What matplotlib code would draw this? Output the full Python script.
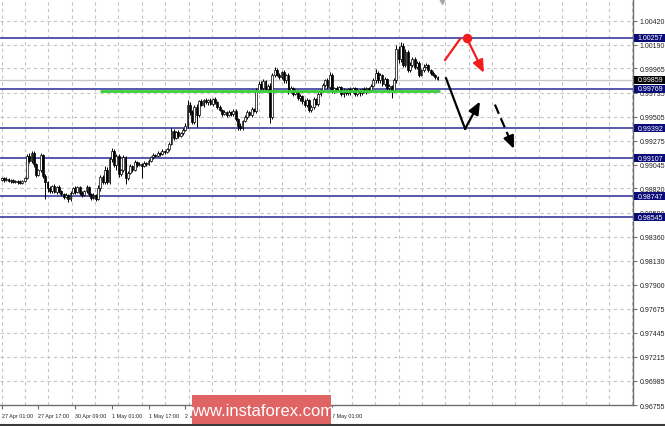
import matplotlib
matplotlib.use("Agg")
import matplotlib.pyplot as plt
from matplotlib.transforms import blended_transform_factory
from matplotlib.patches import Rectangle
from matplotlib.lines import Line2D

plt.rcParams['font.family'] = ['Liberation Sans', 'DejaVu Sans']

# ---------------- data ----------------
# H1 closes, in units of 1e-4
closes = [
    9892, 9890, 9891, 9889, 9890, 9888, 9889, 9888, 9887, 9889, 9892,
    9913, 9908, 9916, 9905, 9895, 9900, 9914, 9894, 9888, 9882,
    9880, 9884, 9879, 9883, 9880, 9877, 9874, 9876, 9872, 9878,
    9882, 9879, 9883, 9878, 9876, 9880, 9883, 9877, 9873, 9876,
    9872, 9882, 9893, 9888, 9900, 9888, 9910, 9918, 9904, 9913,
    9896, 9900, 9912, 9892, 9897, 9903, 9900, 9907, 9904, 9905,
    9903, 9906, 9905, 9908, 9912, 9914, 9913, 9916, 9915, 9918,
    9917, 9920, 9924, 9937, 9930, 9936, 9932, 9935, 9938, 9942,
    9962, 9955, 9945, 9960, 9952, 9965, 9962, 9966, 9964, 9966,
    9963, 9967, 9964, 9960, 9957, 9953, 9955, 9952, 9955, 9953,
    9956, 9948, 9942, 9940, 9946, 9950, 9955, 9952, 9958, 9956,
    9975, 9982, 9978, 9984, 9977, 9980, 9950, 9990, 9995, 9990,
    9988, 9993, 9985, 9990, 9975, 9978, 9972, 9975, 9968, 9970,
    9965, 9962, 9966, 9957, 9960, 9967, 9963, 9972, 9975, 9981,
    9985, 9979, 9990, 9975, 9978, 9976, 9979, 9972, 9976, 9973,
    9977, 9974, 9978, 9972, 9976, 9973, 9977, 9974, 9978, 9976,
    9980, 9985, 9992, 9985, 9990, 9982, 9986, 9978, 9980, 9976,
    9985, 10015, 10005, 10018, 10000, 10012, 9995, 10000, 10005, 9998,
    10002, 9990, 9995, 9998, 10000, 9995, 9992, 9990, 9988, 9986,
]
first_open = 9890
upper_wick = [
    1, 1, 2, 1, 1, 1, 1, 1, 2, 1, 1,
    2, 3, 2, 2, 1, 1, 2, 1, 2, 1,
    2, 1, 2, 1, 2, 1, 1, 2, 1, 2,
    1, 2, 1, 1, 2, 1, 2, 1, 1, 2,
    1, 3, 2, 2, 3, 2, 2, 3, 2, 2,
    2, 1, 2, 1, 2, 2, 1, 2, 1, 2,
    1, 2, 1, 2, 1, 2, 1, 2, 1, 2,
    1, 1, 2, 3, 2, 1, 2, 1, 2, 2,
    4, 2, 2, 2, 3, 1, 2, 1, 2, 1,
    2, 1, 2, 1, 2, 1, 2, 1, 2, 1,
    2, 2, 1, 2, 1, 2, 2, 1, 2, 1,
    3, 2, 2, 2, 1, 2, 3, 2, 3, 2,
    2, 1, 2, 1, 2, 2, 1, 2, 1, 2,
    1, 2, 2, 1, 2, 2, 1, 2, 2, 2,
    1, 2, 3, 2, 1, 2, 1, 1, 2, 1,
    1, 2, 1, 1, 2, 1, 1, 2, 1, 1,
    2, 2, 4, 2, 2, 1, 2, 1, 2, 1,
    2, 4, 3, 4, 3, 3, 2, 3, 2, 2,
    2, 2, 1, 3, 2, 1, 1, 2, 1, 1,
]
lower_wick = [
    1, 2, 1, 1, 2, 1, 1, 2, 1, 1, 1,
    1, 2, 2, 3, 2, 1, 2, 2, 16, 3,
    2, 2, 1, 2, 2, 2, 2, 1, 3, 2,
    1, 2, 1, 2, 2, 1, 2, 2, 2, 1,
    2, 1, 2, 2, 2, 2, 2, 3, 2, 4,
    3, 2, 2, 6, 2, 1, 2, 1, 2, 1,
    11, 1, 2, 1, 1, 2, 1, 1, 2, 1,
    2, 1, 2, 1, 2, 1, 2, 1, 2, 1,
    2, 3, 2, 2, 11, 2, 1, 2, 1, 2,
    1, 2, 1, 2, 1, 2, 1, 2, 1, 2,
    2, 2, 4, 2, 2, 1, 2, 1, 2, 1,
    2, 2, 2, 2, 2, 1, 6, 2, 2, 1,
    2, 2, 2, 2, 3, 2, 2, 1, 2, 3,
    2, 2, 2, 2, 2, 2, 1, 2, 2, 1,
    2, 2, 2, 2, 2, 2, 1, 2, 3, 2,
    2, 3, 1, 2, 2, 3, 2, 1, 2, 2,
    2, 1, 2, 2, 2, 2, 2, 2, 2, 8,
    2, 2, 3, 2, 2, 2, 2, 2, 2, 2,
    2, 2, 1, 2, 1, 2, 2, 1, 2, 1,
]

price_ticks = [1.00420, 1.00190, 0.99965, 0.99735, 0.99505, 0.99275, 0.99045,
               0.98820, 0.98590, 0.98360, 0.98130, 0.97900, 0.97675, 0.97445,
               0.97215, 0.96985, 0.96755]
date_tick_bars = [0, 16, 32, 48, 64, 80, 96, 112, 128, 144]
date_labels = ["27 Apr 01:00", "27 Apr 17:00", "30 Apr 09:00", "1 May 01:00",
               "1 May 17:00", "2 May 09:00", "3 May 01:00", "3 May 17:00",
               "4 May 09:00", "7 May 01:00"]

levels = [1.00257, 0.99769, 0.99392, 0.99107, 0.98747, 0.98545]
bid_price = 0.99859
green_start, green_end, green_price = 43, 191, 0.99752

red_path_x = [193.3, 199.8]
red_path_y = [1.00046, 1.00245]
red_dot = (202.7, 1.00255)
red_arrow = [(203.6, 1.00215), (210.2, 0.99922)]
black_path_x = [193.7, 202.0]
black_path_y = [0.99871, 0.99389]
black_arrow = [(202.0, 0.99389), (208.5, 0.99649)]
dashed_arrow = [(215.0, 0.99620), (223.3, 0.99198)]
shift_marker_bar = 191.8

# ---------------- figure ----------------
W, H = 665, 427
fig = plt.figure(figsize=(W / 100, H / 100), dpi=100, facecolor="white")
ax = fig.add_axes([0, 21 / H, 633 / W, 406 / H])
ax.set_facecolor("white")

ymin, ymax = 0.96757, 1.006267
ax.set_xlim(-0.74, 275.2)
ax.set_ylim(ymin, ymax)
px_y = (ymax - ymin) / 406.0   # data units per pixel (vertical)

# grid
grid_col = "#c4c4c4"
for p in price_ticks:
    ax.axhline(p, color=grid_col, lw=0.8, ls=(0, (3, 3)), zorder=0.5)
gx = 0.0
while gx < 276:
    ax.axvline(gx, color=grid_col, lw=0.8, ls=(0, (3, 3)), zorder=0.5)
    gx += 10.18

# level lines
for lv in levels:
    ax.axhline(lv, color="#4a4aa8", lw=1.3, zorder=1)
ax.axhline(bid_price, color="#c8c8c8", lw=1.0, zorder=1)

# candles
opens = [first_open] + closes[:-1]
for i, (o, c, uw, lw_) in enumerate(zip(opens, closes, upper_wick, lower_wick)):
    o_p, c_p = o / 10000, c / 10000
    hi = max(o_p, c_p) + uw / 10000
    lo = min(o_p, c_p) - lw_ / 10000
    ax.vlines(i, lo, hi, color="black", lw=0.7, zorder=2)
    if c > o:
        ax.bar(i, c_p - o_p, bottom=o_p, width=0.8, facecolor="white",
               edgecolor="black", lw=0.5, zorder=3)
    elif c < o:
        ax.bar(i, o_p - c_p, bottom=c_p, width=0.8, facecolor="black",
               edgecolor="black", lw=0.5, zorder=3)
    else:
        ax.hlines(c_p, i - 0.4, i + 0.4, color="black", lw=0.7, zorder=3)

# green support line
ax.plot([green_start, green_end], [green_price, green_price], color="#3ccf3c",
        lw=2.0, solid_capstyle="butt", zorder=4)

# red scenario
ax.plot(red_path_x, red_path_y, color="#f21c1c", lw=1.6, zorder=5)
ax.scatter([red_dot[0]], [red_dot[1]], s=34, color="#f21c1c", zorder=6)
ax.annotate("", xy=red_arrow[1], xytext=red_arrow[0],
            arrowprops=dict(arrowstyle="-|>,head_length=0.75,head_width=0.32",
                            color="#f21c1c", lw=1.6, shrinkA=0, shrinkB=0),
            zorder=6)

# black scenario
ax.plot(black_path_x, black_path_y, color="black", lw=1.6, zorder=5)
ax.annotate("", xy=black_arrow[1], xytext=black_arrow[0],
            arrowprops=dict(arrowstyle="-|>,head_length=0.75,head_width=0.32",
                            color="black", lw=1.6, shrinkA=0, shrinkB=0),
            zorder=6)
(dx0, dy0), (dx1, dy1) = dashed_arrow
ax.plot([dx0, dx0 + (dx1 - dx0) * 0.75], [dy0, dy0 + (dy1 - dy0) * 0.75],
        color="black", lw=1.6, ls=(0, (4.5, 2.2)), zorder=5)
ax.annotate("", xy=dashed_arrow[1],
            xytext=(dx0 + (dx1 - dx0) * 0.7, dy0 + (dy1 - dy0) * 0.7),
            arrowprops=dict(arrowstyle="-|>,head_length=0.75,head_width=0.32",
                            color="black", lw=1.6, shrinkA=0, shrinkB=0),
            zorder=6)

# chart shift marker
ax.plot([shift_marker_bar], [ymax - 2.5 * px_y], marker="v", ms=4.5,
        color="#a8a8a8", clip_on=False, zorder=6)

# axes styling
for s in ("left", "top"):
    ax.spines[s].set_visible(False)
for s in ("right", "bottom"):
    ax.spines[s].set_color("#6e6e6e")
    ax.spines[s].set_linewidth(1.0)

ax.yaxis.tick_right()
ax.set_yticks(price_ticks)
ax.set_yticklabels(["%.5f" % p for p in price_ticks])
ax.tick_params(axis="y", direction="out", length=3, width=0.8, color="#6e6e6e",
               pad=1.5, labelsize=5.0, labelcolor="#222222")
ax.set_xticks(date_tick_bars)
ax.set_xticklabels(date_labels)
ax.tick_params(axis="x", direction="out", length=3, width=0.8, color="#6e6e6e",
               pad=2.8, labelsize=3.9, labelcolor="#222222")
for lbl in ax.get_xticklabels():
    lbl.set_ha("left")

# price labels for levels
tr = blended_transform_factory(ax.transAxes, ax.transData)
box_h = 8 * px_y
for lv in levels + [bid_price]:
    fc = "black" if lv == bid_price else "#0c0c78"
    ax.add_patch(Rectangle((634 / 633, lv - box_h / 2), 32 / 633, box_h,
                           transform=tr, facecolor=fc, edgecolor="none",
                           clip_on=False, zorder=9))
    ax.text(637.5 / 633, lv, "%.5f" % lv, transform=tr, ha="left", va="center",
            fontsize=5.0, color="white", clip_on=False, zorder=10)

# watermark
fig.patches.append(Rectangle((192 / W, 0), (331 - 192) / W, (427 - 396) / H,
                             transform=fig.transFigure, facecolor="#e06464",
                             edgecolor="none", zorder=20))
fig.text(260.5 / W, (427 - 412) / H, "www.instaforex.com", color="white",
         fontsize=12, ha="center", va="center", zorder=21)
fig.lines.append(Line2D([0, 1], [0.8 / H, 0.8 / H], transform=fig.transFigure,
                        color="#3a3a3a", lw=1.5, zorder=22))

fig.savefig("out.png", dpi=100, facecolor="white")
